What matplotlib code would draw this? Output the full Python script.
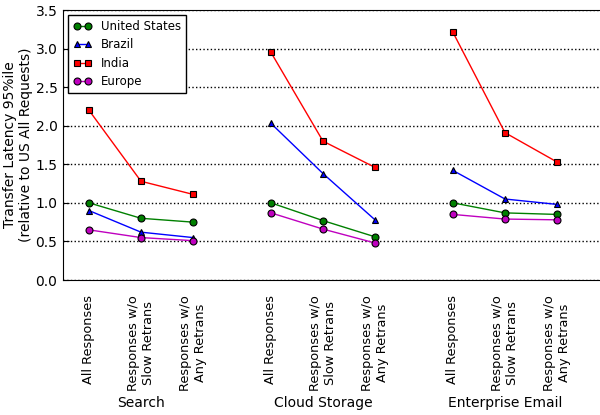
import matplotlib
matplotlib.use('Agg')
import matplotlib.pyplot as plt
import matplotlib.transforms as mtransforms

groups = ['Search', 'Cloud Storage', 'Enterprise Email']
conds = ['All Responses', 'Responses w/o\nSlow Retrans', 'Responses w/o\nAny Retrans']
xpos = [0, 1, 2, 3.5, 4.5, 5.5, 7, 8, 9]

us     = [1.00, 0.80, 0.75,  1.00, 0.77, 0.56,  1.00, 0.87, 0.85]
brazil = [0.90, 0.62, 0.55,  2.03, 1.38, 0.78,  1.42, 1.05, 0.98]
india  = [2.20, 1.28, 1.11,  2.95, 1.80, 1.46,  3.21, 1.91, 1.53]
europe = [0.65, 0.55, 0.51,  0.87, 0.66, 0.48,  0.85, 0.79, 0.78]

series = [('United States', us, 'o', 'green'),
          ('Brazil', brazil, '^', 'blue'),
          ('India', india, 's', 'red'),
          ('Europe', europe, 'o', 'm')]

fig = plt.figure(figsize=(6, 4.15), dpi=100)
ax = fig.add_axes([63/600, 1 - 280/415, 560/600, 270/415])

for name, vals, mk, col in series:
    for g in range(3):
        xs = xpos[g*3:g*3+3]
        ys = vals[g*3:g*3+3]
        ax.plot(xs, ys, color=col, marker=mk, markersize=5, markeredgecolor='black',
                markeredgewidth=0.8, linewidth=1, label=name if g == 0 else None)

ax.set_ylim(0, 3.5)
ax.set_xlim(-0.5, 10.27)
ax.set_yticks([0, 0.5, 1.0, 1.5, 2.0, 2.5, 3.0, 3.5])
ax.set_yticklabels(['%.1f' % v for v in [0, 0.5, 1.0, 1.5, 2.0, 2.5, 3.0, 3.5]], fontsize=10)
ax.yaxis.grid(True, linestyle=':', color='black', linewidth=1)
ax.tick_params(axis='y', direction='in', length=4, right=False, pad=4)
ax.set_xticks(xpos)
ax.set_xticklabels(conds * 3, rotation=90, fontsize=9.3, ha='center', va='top')
ax.tick_params(axis='x', length=0, pad=11)
ax.set_ylabel('Transfer Latency 95%ile\n(relative to US All Requests)', fontsize=10)
ax.yaxis.set_label_coords(-0.053, 0.5)

trans = mtransforms.blended_transform_factory(ax.transData, fig.transFigure)
for g, name in enumerate(groups):
    ax.text(xpos[g*3+1], 1 - 403/415, name, transform=trans, ha='center', va='center', fontsize=10)

leg = ax.legend(loc='upper left', numpoints=2, fontsize=8.5, fancybox=False, framealpha=1,
                edgecolor='black', borderaxespad=0.45, handlelength=1.6, labelspacing=0.45,
                handletextpad=0.8, borderpad=0.4)
leg.get_frame().set_linewidth(1)

fig.savefig('out.png', dpi=100)
